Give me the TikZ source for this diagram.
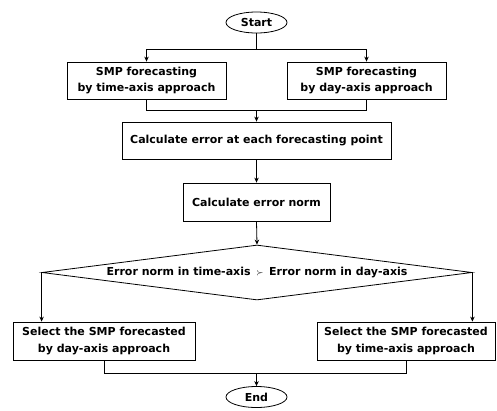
\documentclass[tikz,border=0pt]{standalone}
\usepackage{fontspec}
\setmainfont{DejaVu Sans}
\usetikzlibrary{shapes.geometric,arrows.meta}
\begin{document}
\begin{tikzpicture}[x=1pt,y=-1pt,
  every node/.style={font=\fontsize{11}{16.5}\selectfont\bfseries, align=center, inner sep=0pt},
  proc/.style={draw, line width=0.8pt, minimum width=#1},
  term/.style={draw, ellipse, line width=0.8pt, minimum width=61pt, minimum height=21pt},
  flow/.style={line width=0.8pt},
  arr/.style={flow, -{Stealth[length=5pt,width=4.5pt]}}]
\useasboundingbox (0,0) rectangle (497,410);

% terminals
\node[term] (start) at (256.5,22.5) {Start};
\node[term] (end) at (256.5,397) {End};

% forecasting stage
\node[proc=159pt, minimum height=37pt] (ta) at (146.5,80.5) {SMP forecasting\\by time-axis approach};
\node[proc=159pt, minimum height=37pt] (da) at (366.5,80.5) {SMP forecasting\\by day-axis approach};

% error evaluation
\node[proc=269pt, minimum height=37pt] (calc) at (256.5,140.5) {Calculate error at each forecasting point};
\node[proc=147pt, minimum height=38pt] (norm) at (256.5,202) {Calculate error norm};

% comparison
\node[draw, diamond, line width=0.8pt, minimum width=430pt, minimum height=55pt, aspect=7.8] (dec) at (257,272.5)
  {Error norm in time-axis \,{\mdseries\small$\succ$}\, Error norm in day-axis};

% selection
\node[proc=182pt, minimum height=38pt] (seld) at (104,341) {Select the SMP forecasted\\by day-axis approach};
\node[proc=178pt, minimum height=38pt] (selt) at (406,341) {Select the SMP forecasted\\by time-axis approach};

% junction points
\coordinate (split) at (256.5,49);
\coordinate (join1) at (256.5,110);
\coordinate (join2) at (256.5,373);

% connectors
\draw[flow] (start.south) -- (split);
\draw[arr] (split) -| (ta.north);
\draw[arr] (split) -| (da.north);
\draw[flow] (ta.south) |- (join1);
\draw[flow] (da.south) |- (join1);
\draw[arr] (join1) -- (calc.north);
\draw[arr] (calc.south) -- (norm.north);
\draw[arr] (norm.south) -- (dec.north);
\draw[arr] (dec.west) -- (dec.west |- seld.north);
\draw[arr] (dec.east) -- (dec.east |- selt.north);
\draw[flow] (seld.south) |- (join2);
\draw[flow] (selt.south) |- (join2);
\draw[arr] (join2) -- (end.north);
\end{tikzpicture}
\end{document}
